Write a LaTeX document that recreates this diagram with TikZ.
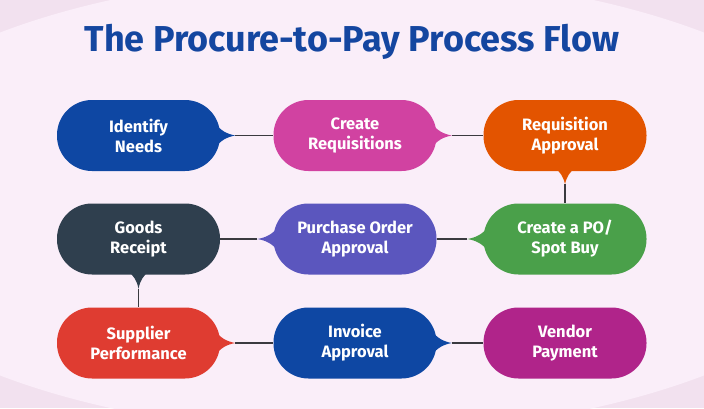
\documentclass[tikz,border=0pt]{standalone}
\usepackage{fontspec}
\setmainfont{Fira Sans}
\usepackage{tikz}

\definecolor{bglight}{HTML}{FAEEF9}
\definecolor{bgcorner}{HTML}{F2E1EF}
\definecolor{titleblue}{HTML}{1446A0}
\definecolor{linegray}{HTML}{3A3A40}
\definecolor{needblue}{HTML}{0E47A3}
\definecolor{reqpink}{HTML}{D142A1}
\definecolor{apporange}{HTML}{E35400}
\definecolor{pogreen}{HTML}{4AA04A}
\definecolor{popurple}{HTML}{5B56BE}
\definecolor{goodsslate}{HTML}{2F3F4E}
\definecolor{supred}{HTML}{DF3C31}
\definecolor{payplum}{HTML}{B0248A}

\tikzset{
	stepbox/.style={rectangle, rounded corners=35pt, minimum width=163pt, minimum height=71pt, inner sep=0pt, align=center, text=white, font=\bfseries\fontsize{16.5}{20}\selectfont},
	link/.style={draw=linegray, line width=1.4pt},
	titletext/.style={text=titleblue, font=\bfseries\fontsize{36}{40}\selectfont},
}

\begin{document}
\begin{tikzpicture}[x=1pt, y=1pt]
	\useasboundingbox (0,0) rectangle (704,408);
	\begin{scope}
		\clip (0,0) rectangle (704,408);
		\fill[bgcorner] (0,0) rectangle (704,408);
		\fill[bglight] (352,204) ellipse [x radius=531, y radius=229];
	\end{scope}

	\node[titletext] (ttl) at (352,366) {The Procure-to-Pay Process Flow};

	\node[stepbox, fill=needblue] (idn) at (138.5,272.5) {Identify\\Needs};
	\node[stepbox, fill=reqpink] (creq) at (355,272.5) {Create\\Requisitions};
	\node[stepbox, fill=apporange] (rapp) at (565,272.5) {Requisition\\Approval};
	\node[stepbox, fill=goodsslate] (grc) at (138.5,169) {Goods\\Receipt};
	\node[stepbox, fill=popurple] (poa) at (355,169) {Purchase Order\\Approval};
	\node[stepbox, fill=pogreen] (cpo) at (565,169) {Create a PO/\\Spot Buy};
	\node[stepbox, fill=supred] (sup) at (138.5,65) {Supplier\\Performance};
	\node[stepbox, fill=needblue] (inv) at (355,65) {Invoice\\Approval};
	\node[stepbox, fill=payplum] (vpay) at (565,65) {Vendor\\Payment};

	\coordinate (idn-tip) at ([xshift=15pt]idn.east);
	\coordinate (creq-tip) at ([xshift=15pt]creq.east);
	\coordinate (rapp-tip) at ([yshift=-13pt]rapp.south);
	\coordinate (cpo-tip) at ([xshift=-16pt]cpo.west);
	\coordinate (poa-tip) at ([xshift=-16pt]poa.west);
	\coordinate (grc-tip) at ([yshift=-14pt]grc.south);
	\coordinate (sup-tip) at ([xshift=15pt]sup.east);
	\coordinate (inv-tip) at ([xshift=15pt]inv.east);

	\fill[needblue] ([shift={(-5pt,12pt)}]idn.east) to[bend right=20] (idn-tip) to[bend right=20] ([shift={(-5pt,-12pt)}]idn.east) -- cycle;
	\fill[reqpink] ([shift={(-5pt,12pt)}]creq.east) to[bend right=20] (creq-tip) to[bend right=20] ([shift={(-5pt,-12pt)}]creq.east) -- cycle;
	\fill[apporange] ([shift={(-11pt,4pt)}]rapp.south) to[bend left=20] (rapp-tip) to[bend left=20] ([shift={(11pt,4pt)}]rapp.south) -- cycle;
	\fill[pogreen] ([shift={(5pt,12pt)}]cpo.west) to[bend left=20] (cpo-tip) to[bend left=20] ([shift={(5pt,-12pt)}]cpo.west) -- cycle;
	\fill[popurple] ([shift={(5pt,12pt)}]poa.west) to[bend left=20] (poa-tip) to[bend left=20] ([shift={(5pt,-12pt)}]poa.west) -- cycle;
	\fill[goodsslate] ([shift={(-11pt,4pt)}]grc.south) to[bend left=20] (grc-tip) to[bend left=20] ([shift={(11pt,4pt)}]grc.south) -- cycle;
	\fill[supred] ([shift={(-5pt,12pt)}]sup.east) to[bend right=20] (sup-tip) to[bend right=20] ([shift={(-5pt,-12pt)}]sup.east) -- cycle;
	\fill[needblue] ([shift={(-5pt,12pt)}]inv.east) to[bend right=20] (inv-tip) to[bend right=20] ([shift={(-5pt,-12pt)}]inv.east) -- cycle;

	\draw[link] (idn-tip) -- (creq.west);
	\draw[link] (creq-tip) -- (rapp.west);
	\draw[link] (rapp-tip) -- (cpo.north);
	\draw[link] (cpo-tip) -- (poa.east);
	\draw[link] (poa-tip) -- (grc.east);
	\draw[link] (grc-tip) -- (sup.north);
	\draw[link] (sup-tip) -- (inv.west);
	\draw[link] (inv-tip) -- (vpay.west);
\end{tikzpicture}
\end{document}
